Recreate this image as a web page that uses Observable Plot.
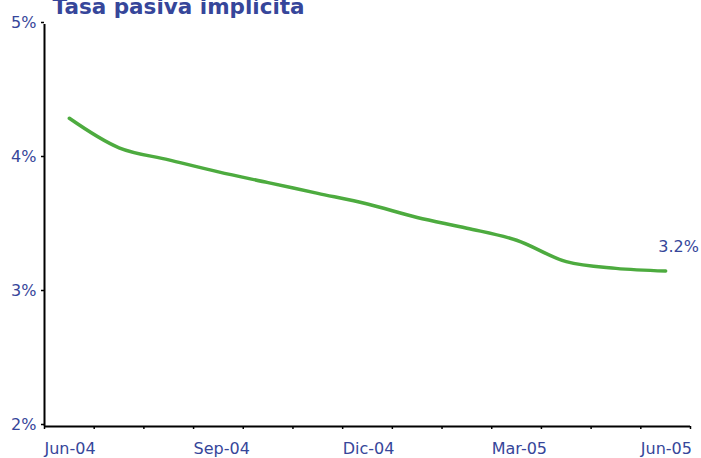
<!DOCTYPE html>
<html>
<head>
<meta charset="utf-8">
<script src="https://cdn.jsdelivr.net/npm/d3@7"></script>
<script src="https://cdn.jsdelivr.net/npm/@observablehq/plot@0.6"></script>
<style>
  body { margin: 0; background: #fff; }
  #chart svg { overflow: visible; }
</style>
</head>
<body>
<div id="chart"></div>
<script>
const title = "Tasa pasiva implícita";
const months = ["Jun-04","Jul-04","Ago-04","Sep-04","Oct-04","Nov-04","Dic-04","Ene-05","Feb-05","Mar-05","Abr-05","May-05","Jun-05"];
const values = [4.30, 4.08, 3.99, 3.90, 3.82, 3.74, 3.66, 3.56, 3.48, 3.39, 3.23, 3.18, 3.16];
const tickLabels = ["Jun-04","Sep-04","Dic-04","Mar-05","Jun-05"];
const yTicks = [2, 3, 4, 5];

const blue = "#36469a";
const green = "#4dab3f";
const font = "DejaVu Sans, sans-serif";

const data = months.map((m, i) => ({i, m, v: values[i]}));
const boundaries = d3.range(-0.5, months.length, 1);
const labelData = tickLabels.map(t => ({t, x: months.indexOf(t) - 0.5}));
const last = data[data.length - 1];

const plot = Plot.plot({
  width: 701,
  height: 458,
  marginLeft: 44,
  marginRight: 11,
  marginTop: 24,
  marginBottom: 32,
  style: {fontFamily: font, background: "#fff", overflow: "visible"},
  x: {domain: [-0.5, months.length - 0.5]},
  y: {domain: [2, 5]},
  marks: [
    Plot.axisY({ticks: yTicks, tickFormat: d => d + "%", tickSize: 3, tickPadding: 5, dy: -2, fontSize: 16, color: blue, stroke: "#000", strokeWidth: 1.5, label: null}),
    Plot.axisX({ticks: boundaries, tickFormat: () => "", tickSize: 3, stroke: "#000", strokeWidth: 1.5, label: null}),
    Plot.ruleX([-0.5], {stroke: "#000", strokeWidth: 2}),
    Plot.ruleY([2], {stroke: "#000", strokeWidth: 2}),
    Plot.text(labelData, {x: "x", y: 2, text: "t", textAnchor: "start", dy: 22, fontSize: 16, fill: blue, letterSpacing: "0.8px"}),
    Plot.line(data, {x: "i", y: "v", stroke: green, strokeWidth: 3.5, curve: "catmull-rom"}),
    Plot.text([last], {x: "i", y: "v", text: d => d3.format(".1f")(d.v) + "%", dx: 13, dy: -24, fontSize: 16, fill: blue}),
    Plot.text([title], {frameAnchor: "top-left", text: d => d, dx: 8, dy: -11, lineAnchor: "bottom", textAnchor: "start", fontSize: 21.5, fontWeight: "bold", fill: blue})
  ]
});
document.getElementById("chart").appendChild(plot);
</script>
</body>
</html>
